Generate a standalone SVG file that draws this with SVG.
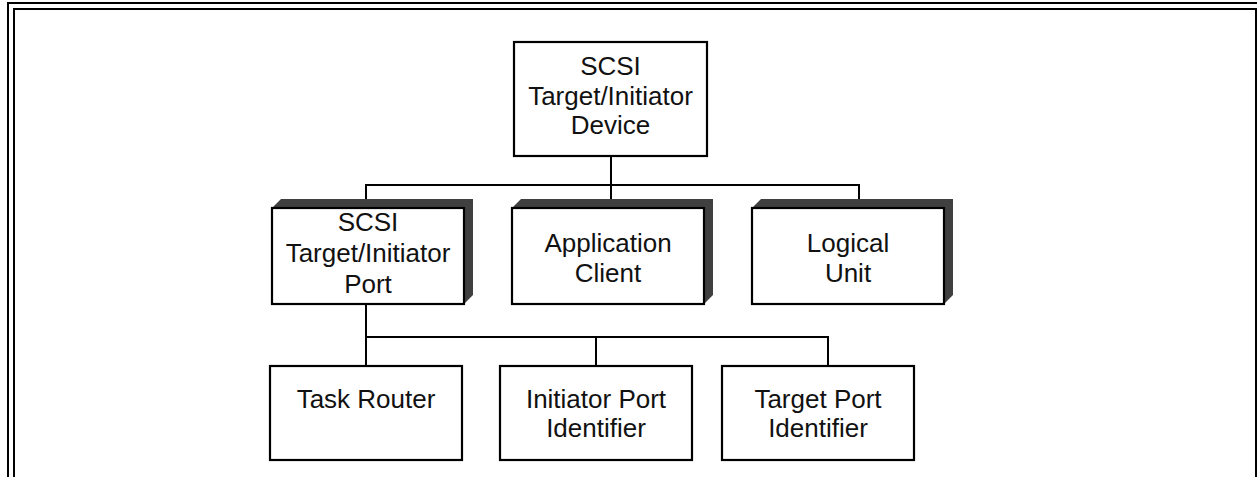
<svg xmlns="http://www.w3.org/2000/svg" width="1257" height="477" viewBox="0 0 1257 477">
<style>
.frame{fill:none;stroke:#000;stroke-width:2}
.box{fill:#fff;stroke:#000;stroke-width:2.2}
.shadow{fill:#404040;stroke:none}
.conn{fill:none;stroke:#000;stroke-width:2}
.t{font-family:"Liberation Sans",Arial,sans-serif;font-size:26px;fill:#111;text-anchor:middle}
</style>
<rect width="1257" height="477" fill="#fff"/>
<g id="frame">
<path class="frame" d="M8,480 V3 H1260"/>
<path class="frame" d="M14,480 V9 H1256 V480"/>
</g>
<g id="connectors">
<path class="conn" d="M611,156 V185"/>
<path class="conn" d="M366,209 V185 H859 V209"/>
<path class="conn" d="M611,185 V209"/>
<path class="conn" d="M366,304 V366"/>
<path class="conn" d="M366,337 H828 V366"/>
<path class="conn" d="M596,337 V366"/>
</g>
<g id="device">
<rect class="box" x="514" y="42" width="193" height="114"/>
<text class="t" x="610.5" y="75">SCSI</text>
<text class="t" x="610.5" y="105">Target/Initiator</text>
<text class="t" x="610.5" y="134">Device</text>
</g>
<g id="port">
<polygon class="shadow" points="272,208 281,199 473,199 473,295 464,304"/>
<rect class="box" x="272" y="208" width="192" height="96"/>
<text class="t" x="368" y="231">SCSI</text>
<text class="t" x="368" y="262">Target/Initiator</text>
<text class="t" x="368" y="293">Port</text>
</g>
<g id="appclient">
<polygon class="shadow" points="512,208 521,199 713,199 713,295 704,304"/>
<rect class="box" x="512" y="208" width="192" height="96"/>
<text class="t" x="608" y="252">Application</text>
<text class="t" x="608" y="282">Client</text>
</g>
<g id="logicalunit">
<polygon class="shadow" points="752,208 761,199 953,199 953,295 944,304"/>
<rect class="box" x="752" y="208" width="192" height="96"/>
<text class="t" x="848" y="252">Logical</text>
<text class="t" x="848" y="282">Unit</text>
</g>
<g id="taskrouter">
<rect class="box" x="270" y="366" width="192" height="94"/>
<text class="t" x="366" y="408">Task Router</text>
</g>
<g id="initiatorportid">
<rect class="box" x="500" y="366" width="192" height="94"/>
<text class="t" x="596" y="408">Initiator Port</text>
<text class="t" x="596" y="437">Identifier</text>
</g>
<g id="targetportid">
<rect class="box" x="722" y="366" width="192" height="94"/>
<text class="t" x="818" y="408">Target Port</text>
<text class="t" x="818" y="437">Identifier</text>
</g>
</svg>
